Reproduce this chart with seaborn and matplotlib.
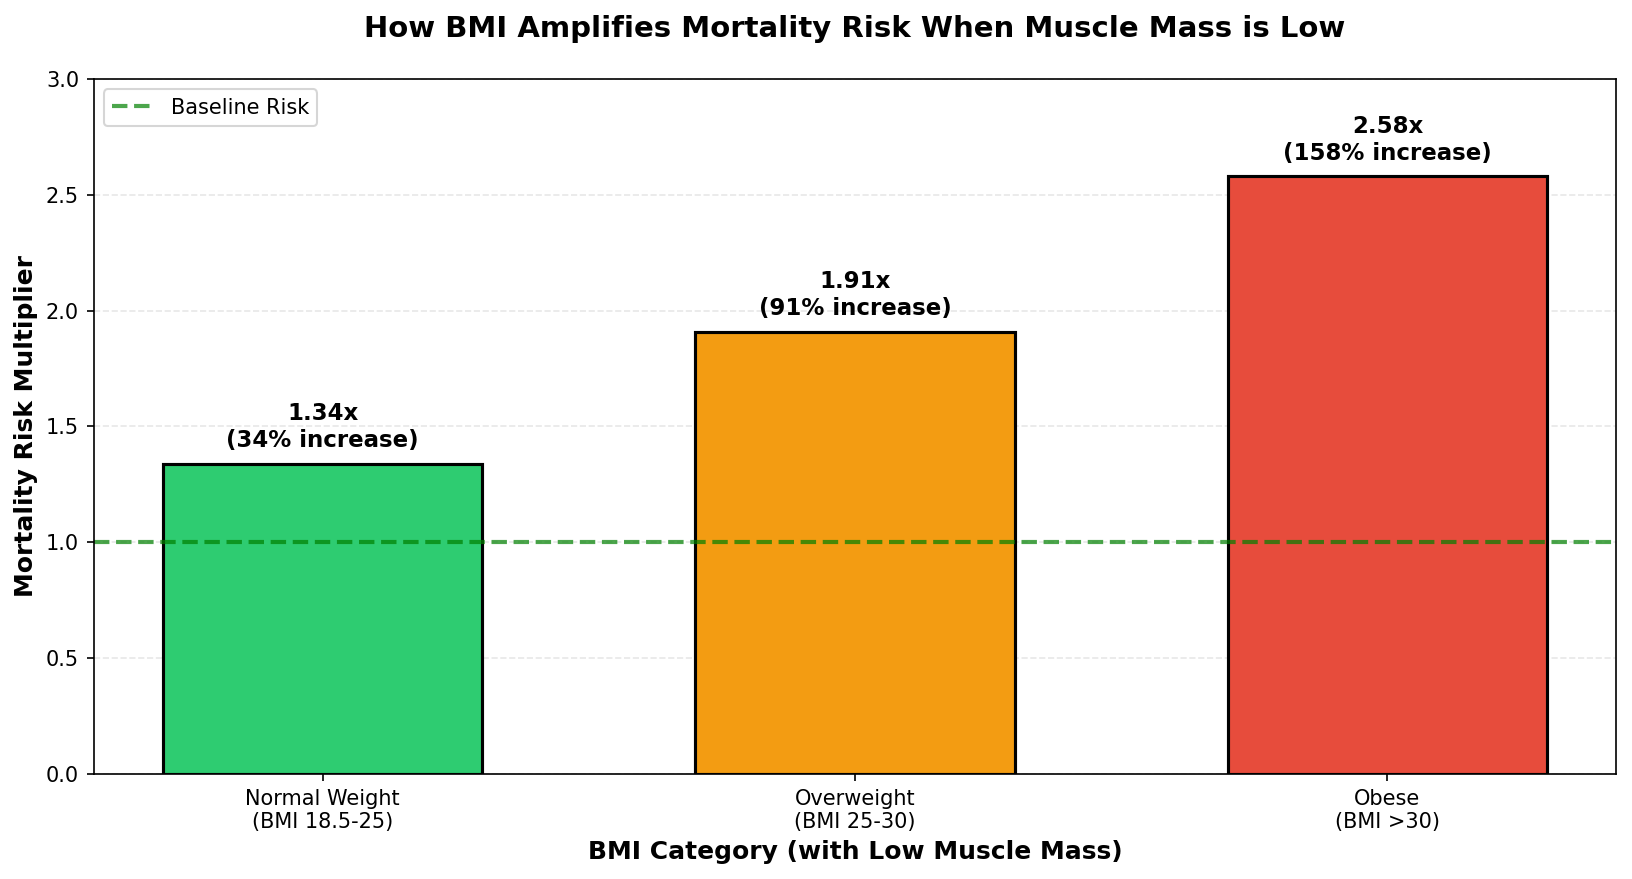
import matplotlib
matplotlib.use("Agg")
import matplotlib.pyplot as plt
import seaborn as sns
import pandas as pd

categories = ["Normal Weight\n(BMI 18.5-25)", "Overweight\n(BMI 25-30)", "Obese\n(BMI >30)"]
risk_multiplier = [1.34, 1.91, 2.58]
pct_increase = [34, 91, 158]
bar_colors = ["#2ecc71", "#f39c12", "#e74c3c"]
baseline = 1.0

df = pd.DataFrame({"category": categories, "risk": risk_multiplier})

fig, ax = plt.subplots(figsize=(10.88, 5.86), dpi=150)
sns.barplot(data=df, x="category", y="risk", hue="category", palette=bar_colors,
            saturation=1, width=0.6, edgecolor="black", linewidth=1.5,
            legend=False, ax=ax)
# go back to matplotlib's default x margins
ax.autoscale(enable=True, axis="x")

ax.axhline(baseline, color="green", linestyle="--", linewidth=2, alpha=0.7, label="Baseline Risk")

for i, (v, p) in enumerate(zip(risk_multiplier, pct_increase)):
    ax.text(i, v + 0.05, f"{v:.2f}x\n({p}% increase)", ha="center", va="bottom",
            fontsize=11, fontweight="bold")

ax.set_ylim(0, 3.0)
ax.set_xlabel("BMI Category (with Low Muscle Mass)", fontsize=12, fontweight="bold")
ax.set_ylabel("Mortality Risk Multiplier", fontsize=12, fontweight="bold")
ax.set_title("How BMI Amplifies Mortality Risk When Muscle Mass is Low",
             fontsize=14, fontweight="bold", pad=20)
ax.grid(axis="y", linestyle="--", alpha=0.3)
ax.set_axisbelow(True)
ax.legend(loc="upper left", fontsize=10)

fig.subplots_adjust(left=0.0574, right=0.9904, top=0.9101, bottom=0.1195)
plt.savefig("out.png", dpi=150)
